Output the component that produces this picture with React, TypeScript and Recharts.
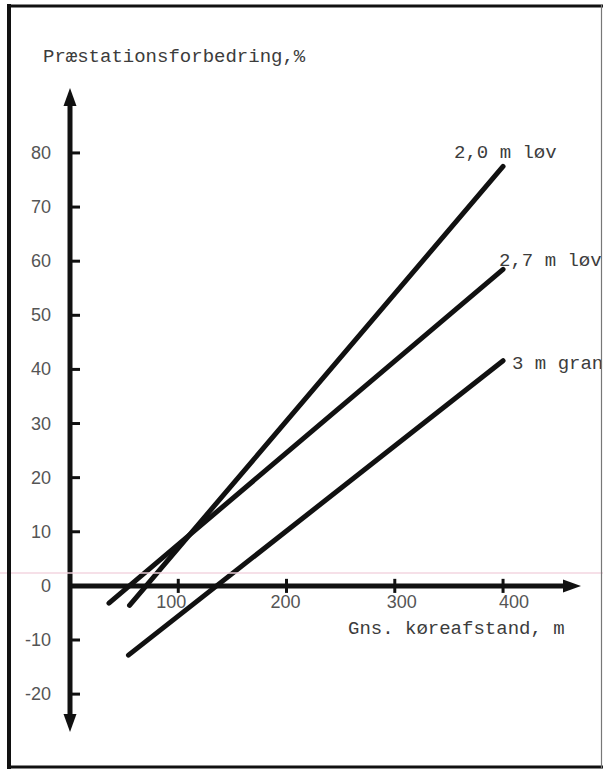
import React from 'react';
import { LineChart, Line, XAxis, YAxis, ReferenceLine } from 'recharts';

// ---- data ----
const yTicks = [-20, -10, 0, 10, 20, 30, 40, 50, 60, 70, 80];
const xTicks = [100, 200, 300, 400];
const seriesNames = ['2,0 m løv', '2,7 m løv', '3 m gran'];
const lov20X = [55, 400];
const lov20Y = [-3.6, 77.5];
const lov27X = [36, 400];
const lov27Y = [-3.2, 58.5];
const granX = [54, 400];
const granY = [-12.8, 41.6];
const yTitle = 'Præstationsforbedring,%';
const xTitle = 'Gns. køreafstand, m';

// ---- style / layout config ----
const W = 603;
const H = 770;
const INK = '#111';
const TEXT = '#3c3c3c';
const MONO = '"Liberation Mono", "Courier New", monospace';
const SANS = '"Liberation Sans", Arial, sans-serif';
const labelOffsets = [
  { dx: -49, dy: -8.5 },
  { dx: -4, dy: -3 },
  { dx: 9, dy: 8.6 },
];
const xTickLabelDx = [-7, -1, 7, 11];

const toPoints = (xs: number[], ys: number[]) => xs.map((x, i) => ({ x, y: ys[i] }));
const series = [
  toPoints(lov20X, lov20Y),
  toPoints(lov27X, lov27Y),
  toPoints(granX, granY),
];

const arrowShape = (mode: 'both' | 'end') => (p: any) => {
  let { x1, y1, x2, y2 } = p;
  if (mode === 'end' && x1 > x2) {
    [x1, x2] = [x2, x1];
    [y1, y2] = [y2, y1];
  }
  const len = Math.hypot(x2 - x1, y2 - y1) || 1;
  const ux = (x2 - x1) / len;
  const uy = (y2 - y1) / len;
  const L = 18;
  const Wd = 6.5;
  const head = (tx: number, ty: number, dx: number, dy: number) => {
    const bx = tx - dx * L;
    const by = ty - dy * L;
    return `${tx},${ty} ${bx - dy * Wd},${by + dx * Wd} ${bx + dy * Wd},${by - dx * Wd}`;
  };
  const sx = mode === 'both' ? x1 + ux * L * 0.7 : x1;
  const sy = mode === 'both' ? y1 + uy * L * 0.7 : y1;
  const ex = x2 - ux * L * 0.7;
  const ey = y2 - uy * L * 0.7;
  return (
    <g>
      <line x1={sx} y1={sy} x2={ex} y2={ey} stroke={INK} strokeWidth={5} />
      <polygon points={head(x2, y2, ux, uy)} fill={INK} />
      {mode === 'both' && <polygon points={head(x1, y1, -ux, -uy)} fill={INK} />}
    </g>
  );
};

const YTick = (props: any) => {
  const { x, y, payload } = props;
  return (
    <g>
      <line x1={x} x2={x + 10} y1={y} y2={y} stroke={INK} strokeWidth={3} />
      <text
        x={x - 19}
        y={y}
        dy={6}
        textAnchor="end"
        fill="#555"
        fontSize={18}
        fontFamily={SANS}
      >
        {payload.value}
      </text>
    </g>
  );
};

const seriesLabel = (i: number) => (props: any) => {
  const { x, y, index } = props;
  if (index !== series[i].length - 1) return null;
  return (
    <text
      key={`lbl-${i}`}
      x={x + labelOffsets[i].dx}
      y={y + labelOffsets[i].dy}
      fill={TEXT}
      fontSize={19}
      fontFamily={MONO}
    >
      {seriesNames[i]}
    </text>
  );
};

export default function App() {
  return (
    <div style={{ position: 'absolute', left: 0, top: 0, width: W, height: H, background: '#fff' }}>
      <LineChart
        width={W}
        height={H}
        margin={{ top: 88, right: 22, bottom: 38, left: 0 }}
      >
        <XAxis type="number" dataKey="x" domain={[0, 472]} hide allowDataOverflow />
        <YAxis
          type="number"
          domain={[-27, 92]}
          ticks={yTicks}
          interval={0}
          width={70}
          axisLine={false}
          tickLine={false}
          tickSize={0}
          tickMargin={0}
          tick={<YTick />}
          allowDataOverflow
        />
        <ReferenceLine x={0} stroke={INK} strokeWidth={5} shape={arrowShape('both')} />
        <ReferenceLine y={0} stroke={INK} strokeWidth={5} shape={arrowShape('end')} />
        {xTicks.map((v, i) => (
          <ReferenceLine
            key={v}
            segment={[{ x: v, y: -1.3 }, { x: v, y: 1.3 }]}
            stroke={INK}
            strokeWidth={3}
            label={{
              value: String(v),
              position: 'bottom',
              offset: 2,
              dx: xTickLabelDx[i],
              fill: '#555',
              fontSize: 18,
              fontFamily: SANS,
            }}
          />
        ))}
        {series.map((d, i) => (
          <Line
            key={seriesNames[i]}
            data={d}
            dataKey="y"
            type="linear"
            stroke={INK}
            strokeWidth={5}
            strokeLinecap="round"
            dot={false}
            activeDot={false}
            isAnimationActive={false}
            label={seriesLabel(i)}
          />
        ))}
      </LineChart>
      <svg
        width={W}
        height={H}
        style={{ position: 'absolute', left: 0, top: 0, pointerEvents: 'none' }}
      >
        <rect x={0} y={572} width={W} height={2} fill="#f2d3de" opacity={0.7} />
        <line x1={9} y1={4} x2={9} y2={769} stroke={INK} strokeWidth={4} />
        <line x1={7} y1={6} x2={603} y2={6} stroke={INK} strokeWidth={3} />
        <line x1={7} y1={767} x2={603} y2={767} stroke={INK} strokeWidth={3} />
        <line x1={601.5} y1={5} x2={601.5} y2={768} stroke="#777" strokeWidth={1.2} />
        <text x={43} y={62} fill={TEXT} fontSize={19} fontFamily={MONO}>
          {yTitle}
        </text>
        <text x={348} y={634} fill={TEXT} fontSize={19} fontFamily={MONO}>
          {xTitle}
        </text>
      </svg>
    </div>
  );
}
